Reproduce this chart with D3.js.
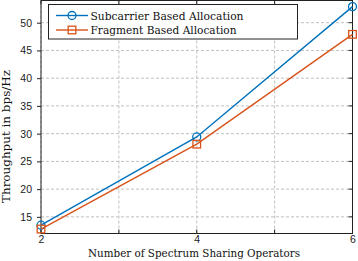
<!DOCTYPE html>
<html><head><meta charset="utf-8">
<script src="https://cdn.jsdelivr.net/npm/d3@7"></script>
<style>body{margin:0;background:#fff}svg{display:block}</style>
</head><body>
<svg id="c" width="358" height="261"></svg>
<script>
const operators = [2, 4, 6];
const subcarrier = [13.5, 29.4, 52.9];
const fragment = [12.8, 28.1, 47.9];
const seriesNames = ["Subcarrier Based Allocation", "Fragment Based Allocation"];
const seriesColors = ["#0072BD", "#D95319"];
const xTicks = [2, 4, 6];
const xGrid = [2, 3, 4, 5, 6];
const yTicks = [15, 20, 25, 30, 35, 40, 45, 50];

const svg = d3.select("#c");
const L = 41, R = 352.5, T = 0.5, B = 233.5;
const x = d3.scaleLinear().domain([2, 6]).range([L, R]);
const y = d3.scaleLinear().domain([12, 54]).range([B, T]);

// grid
const g = svg.append("g");
g.selectAll(".gx").data(xGrid).enter().append("line")
  .attr("x1", d => x(d)).attr("x2", d => x(d)).attr("y1", T).attr("y2", B)
  .attr("stroke", "#c0c0c0").attr("stroke-width", 1).attr("stroke-dasharray", "3,2");
g.selectAll(".gy").data(yTicks).enter().append("line")
  .attr("x1", L).attr("x2", R).attr("y1", d => y(d)).attr("y2", d => y(d))
  .attr("stroke", "#c0c0c0").attr("stroke-width", 1).attr("stroke-dasharray", "3,2");

// axes
const xa = svg.append("g").attr("transform", `translate(0,${B})`)
  .call(d3.axisBottom(x).tickValues(xTicks).tickSize(0).tickPadding(2).tickFormat(d3.format("d")));
const ya = svg.append("g").attr("transform", `translate(${L},0)`)
  .call(d3.axisLeft(y).tickValues(yTicks).tickSizeInner(4).tickSizeOuter(0).tickPadding(5));
[xa, ya].forEach(a => {
  a.select(".domain").remove();
  a.selectAll("text").attr("font-family", "Liberation Sans, Arial, sans-serif").attr("font-size", 10.5).attr("fill", "#222");
});
ya.selectAll("line").attr("stroke", "#222");
// right ticks
svg.append("g").selectAll("line").data(yTicks).enter().append("line")
  .attr("x1", R - 4).attr("x2", R).attr("y1", d => y(d)).attr("y2", d => y(d)).attr("stroke", "#222");
svg.append("g").selectAll("line").data(xGrid).enter().append("line")
  .attr("x1", d => x(d)).attr("x2", d => x(d)).attr("y1", B - 4).attr("y2", B).attr("stroke", "#222");
svg.append("g").selectAll("line").data(xGrid).enter().append("line")
  .attr("x1", d => x(d)).attr("x2", d => x(d)).attr("y1", T).attr("y2", T + 4).attr("stroke", "#222");

// box
svg.append("rect").attr("x", L).attr("y", T).attr("width", R - L).attr("height", B - T)
  .attr("fill", "none").attr("stroke", "#222").attr("stroke-width", 1);

// series
const data = [subcarrier, fragment];
const line = d3.line().x((d, i) => x(operators[i])).y(d => y(d));
data.forEach((s, k) => {
  svg.append("path").datum(s).attr("d", line).attr("fill", "none")
    .attr("stroke", seriesColors[k]).attr("stroke-width", 1.4);
  if (k === 0) {
    svg.append("g").selectAll("circle").data(s).enter().append("circle")
      .attr("cx", (d, i) => x(operators[i])).attr("cy", d => y(d)).attr("r", 4)
      .attr("fill", "none").attr("stroke", seriesColors[k]).attr("stroke-width", 1.3);
  } else {
    svg.append("g").selectAll("rect").data(s).enter().append("rect")
      .attr("x", (d, i) => x(operators[i]) - 3.8).attr("y", d => y(d) - 3.8)
      .attr("width", 7.6).attr("height", 7.6)
      .attr("fill", "none").attr("stroke", seriesColors[k]).attr("stroke-width", 1.3);
  }
});

// legend
const lg = svg.append("g");
lg.append("rect").attr("x", 48.5).attr("y", 4.5).attr("width", 249).attr("height", 34.5)
  .attr("fill", "#fff").attr("stroke", "#222").attr("stroke-width", 1);
const rowsY = [15.5, 30];
const textW = [153, 146];
seriesNames.forEach((n, k) => {
  const yy = rowsY[k];
  lg.append("line").attr("x1", 56).attr("x2", 88).attr("y1", yy).attr("y2", yy)
    .attr("stroke", seriesColors[k]).attr("stroke-width", 1.4);
  if (k === 0) lg.append("circle").attr("cx", 72).attr("cy", yy).attr("r", 4)
    .attr("fill", "none").attr("stroke", seriesColors[k]).attr("stroke-width", 1.3);
  else lg.append("rect").attr("x", 68.2).attr("y", yy - 3.8).attr("width", 7.6).attr("height", 7.6)
    .attr("fill", "none").attr("stroke", seriesColors[k]).attr("stroke-width", 1.3);
  lg.append("text").attr("x", 90.5).attr("y", yy + 4).text(n)
    .attr("font-family", "DejaVu Serif, serif").attr("font-size", 11.5)
    .attr("textLength", textW[k]).attr("lengthAdjust", "spacingAndGlyphs").attr("fill", "#111");
});

// axis labels
svg.append("text").attr("x", 194).attr("y", 257).attr("text-anchor", "middle")
  .text("Number of Spectrum Sharing Operators")
  .attr("font-family", "DejaVu Serif, serif").attr("font-size", 11)
  .attr("textLength", 212).attr("lengthAdjust", "spacingAndGlyphs").attr("fill", "#111");
svg.append("text").attr("transform", "translate(10,136.5) rotate(-90)").attr("text-anchor", "middle")
  .text("Throughput in bps/Hz")
  .attr("font-family", "DejaVu Serif, serif").attr("font-size", 11.5)
  .attr("textLength", 133).attr("lengthAdjust", "spacingAndGlyphs").attr("fill", "#111");
</script>
</body></html>
